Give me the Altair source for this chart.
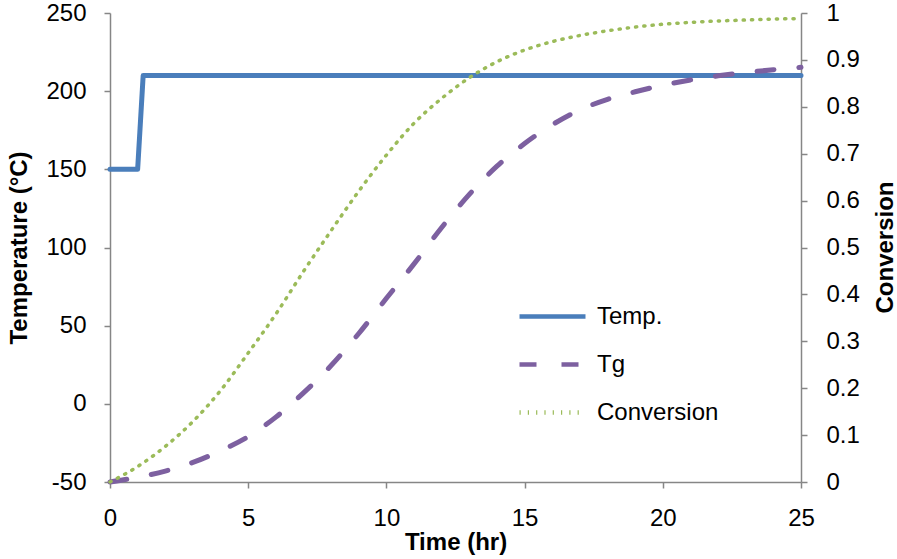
import altair as alt
import pandas as pd

# Time axis (hours) for the sampled curves
hours = list(range(26))

# Glass transition temperature (°C), hourly
tg_c = [-50, -47, -43, -37.5, -30, -21, -8.5, 7, 24.5, 45, 67.5, 89.5, 112.8,
        134, 152, 166.5, 178.5, 188, 194.8, 199.6, 203.8, 207.2, 209.8, 211.9,
        213.7, 215.3]

# Degree of cure, hourly
conversion = [0, 0.033, 0.076, 0.129, 0.195, 0.275, 0.358, 0.449, 0.536, 0.620,
              0.697, 0.765, 0.818, 0.862, 0.896, 0.921, 0.939, 0.952, 0.962,
              0.970, 0.976, 0.980, 0.983, 0.985, 0.987, 0.988]

# Cure temperature schedule: hold at 150 °C, then step up to 210 °C
temp_hours = [0, 1.0, 1.2, 25]
temp_c = [150, 150, 210, 210]

series_order = ["Temp.", "Tg", "Conversion"]
series_colors = ["#4A7EBB", "#7D60A0", "#9BBB59"]
series_dashes = [[1, 0], [17, 25], [1.2, 7.1]]

temp_df = pd.DataFrame({"time": temp_hours, "value": temp_c, "series": "Temp."})
tg_df = pd.DataFrame({"time": hours, "value": tg_c, "series": "Tg"})
conv_df = pd.DataFrame({"time": hours, "value": conversion, "series": "Conversion"})

FONT = "Liberation Sans"

legend = alt.Legend(
    title=None,
    orient="none",
    legendX=407,
    legendY=268,
    padding=0,
    symbolType="stroke",
    symbolSize=4356,
    symbolStrokeWidth=4.5,
    labelFont=FONT,
    labelFontSize=24,
    labelColor="black",
    labelOffset=9,
    rowPadding=-4.5,
)

color_enc = alt.Color(
    "series:N",
    scale=alt.Scale(domain=series_order, range=series_colors),
    legend=legend,
)
dash_enc = alt.StrokeDash(
    "series:N",
    scale=alt.Scale(domain=series_order, range=series_dashes),
    legend=legend,
)

x_enc = alt.X(
    "time:Q",
    scale=alt.Scale(domain=[0, 25], nice=False, zero=False),
    axis=alt.Axis(values=[0, 5, 10, 15, 20, 25], title="Time (hr)",
                  labelFlush=False, labelPadding=18, titlePadding=0),
)

y_left = alt.Y(
    "value:Q",
    scale=alt.Scale(domain=[-50, 250], nice=False, zero=False),
    axis=alt.Axis(values=[-50, 0, 50, 100, 150, 200, 250],
                  labelExpr="'' + datum.value", labelFlush=False,
                  title="Temperature (°C)", labelPadding=18, titlePadding=14),
)

y_right = alt.Y(
    "value:Q",
    scale=alt.Scale(domain=[0, 1], nice=False),
    axis=alt.Axis(orient="right", values=[i / 10 for i in range(11)],
                  format=".1~f", labelFlush=False,
                  title="Conversion", titleAngle=270,
                  titleX=84, titleY=234, titleAlign="center",
                  titleBaseline="middle", labelPadding=19),
)

temp_line = alt.Chart(temp_df).mark_line(strokeWidth=5, strokeCap="round",
                                         strokeJoin="round").encode(
    x=x_enc, y=y_left, color=color_enc, strokeDash=dash_enc
)
tg_line = alt.Chart(tg_df).mark_line(strokeWidth=5, strokeCap="round",
                                     interpolate="monotone").encode(
    x=x_enc, y=y_left, color=color_enc, strokeDash=dash_enc
)
conv_line = alt.Chart(conv_df).mark_line(strokeWidth=3.5, strokeCap="round",
                                         interpolate="monotone").encode(
    x=x_enc, y=y_right, color=color_enc, strokeDash=dash_enc
)

left = alt.layer(temp_line, tg_line)

chart = (
    alt.layer(left, conv_line)
    .resolve_scale(y="independent")
    .properties(
        width=691,
        height=469,
        autosize=alt.AutoSizeParams(type="none"),
        padding={"left": 110, "top": 13, "right": 96, "bottom": 77},
        background="white",
    )
    .configure_view(stroke=None)
    .configure_axis(
        grid=False,
        domainColor="#868686",
        domainWidth=1.5,
        tickColor="#868686",
        tickWidth=1.5,
        tickSize=6,
        labelFont=FONT,
        labelFontSize=24,
        labelColor="black",
        titleFont=FONT,
        titleFontSize=24,
        titleFontWeight="bold",
        titleColor="black",
    )
)

chart.save("out.html", embed_options={"renderer": "svg", "actions": False})
